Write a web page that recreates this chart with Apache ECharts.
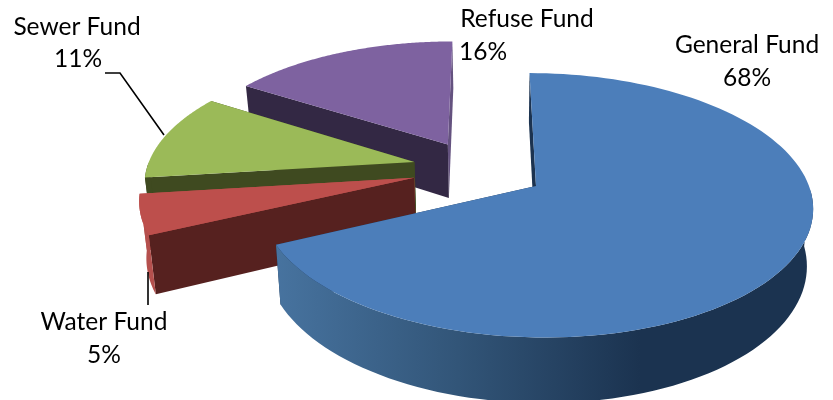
<!DOCTYPE html>
<html lang="en">
<head>
    <meta charset="UTF-8">
    <title>Fund shares</title>
    <script src="https://cdn.jsdelivr.net/npm/echarts@6/dist/echarts.min.js"></script>
    <style>
        html, body { margin: 0; padding: 0; background: #fff; }
        #main { width: 833px; height: 400px; }
    </style>
</head>
<body>
<div id="main"></div>
<script>
    var categories = ['General Fund', 'Water Fund', 'Sewer Fund', 'Refuse Fund'];
    var shares = [68, 5, 11, 16];

    // office pie colours: top face, radial wall, outer wall
    var topColors = ['#4c7eba', '#bd4f4c', '#9bba58', '#7e62a0'];
    var radialColors = ['#1c3350', '#56211f', '#3f4a20', '#332844'];
    var endColors = ['#1c3350', '#b5504d', '#3f4a20', '#64527f'];

    // exploded offset of each slice on the pie plane (x in px, z relative to camera distance)
    var offsets = [[536, 0], [413.5, -0.0095], [412.5, -0.0279], [446, -0.049]];

    // perspective of the plane
    var vanishX = 485, horizon = -700, planeY = 186;
    var radiusX = 273, radiusZ = 0.146;
    var wallHeight = 56, wallSkew = 0.02, wallCenterX = 500;

    // label text positions: name line, value line
    var labelBoxes = [
        { name: [747, 45], value: [747, 78] },
        { name: [104, 322], value: [104, 355] },
        { name: [77, 27], value: [78, 59] },
        { name: [527, 19], value: [483, 52] }
    ];
    var leaderLines = [
        [[164, 135], [120, 73], [105, 73]],
        [[148, 272], [148, 305]]
    ];

    function project(sliceIdx, angle) {
        var u = Math.sin(angle), v = -Math.cos(angle);
        var off = offsets[sliceIdx];
        var z = off[1] + v * radiusZ;
        var s = 1 / (1 - z);
        return {
            x: vanishX + (off[0] + u * radiusX - vanishX) * s,
            y: horizon + (planeY - horizon) * s,
            s: s,
            front: v >= 0
        };
    }

    function down(p) {
        return [p.x + (wallCenterX - p.x) * wallSkew, p.y + wallHeight * p.s];
    }

    function xy(p) {
        return [p.x, p.y];
    }

    function sliceShapes(i) {
        var total = shares.reduce(function (a, b) { return a + b; }, 0);
        var before = 0;
        for (var k = 0; k < i; k++) before += shares[k];
        var a0 = before / total * Math.PI * 2;
        var a1 = (before + shares[i]) / total * Math.PI * 2;

        var arc = [];
        var steps = 120;
        for (var n = 0; n <= steps; n++) {
            arc.push(project(i, a0 + (a1 - a0) * n / steps));
        }
        var off = offsets[i];
        var s = 1 / (1 - off[1]);
        var apex = {
            x: vanishX + (off[0] - vanishX) * s,
            y: horizon + (planeY - horizon) * s,
            s: s
        };
        var first = arc[0], last = arc[arc.length - 1];
        // only the part of the rim that faces the viewer gets a wall
        var frontArc = arc.filter(function (p) { return p.front; });

        return {
            top: [xy(apex)].concat(arc.map(xy)),
            outer: frontArc.map(xy).concat(frontArc.slice().reverse().map(down)),
            startWall: [xy(apex), xy(first), down(first), down(apex)],
            endWall: [xy(apex), xy(last), down(last), down(apex)]
        };
    }

    function poly(points, fill) {
        return {
            type: 'polygon',
            shape: { points: points },
            style: { fill: fill, stroke: null }
        };
    }

    function renderItem(params, api) {
        var i = api.value(0);
        var shapes = sliceShapes(i);
        var outerFill = endColors[i];
        if (i === 0) {
            outerFill = new echarts.graphic.LinearGradient(276, 0, 640, 0, [
                { offset: 0, color: '#47739f' },
                { offset: 0.5, color: '#325578' },
                { offset: 1, color: '#1b3350' }
            ], true);
        }
        var children = [
            poly(shapes.endWall, endColors[i]),
            poly(shapes.startWall, radialColors[i])
        ];
        if (shapes.outer.length > 2) {
            children.push(poly(shapes.outer, outerFill));
        }
        children.push(poly(shapes.top, topColors[i]));
        return { type: 'group', children: children };
    }

    var labelFont = { fontFamily: 'Lato', fontSize: 24.5, fill: '#000' };
    var graphics = [];
    categories.forEach(function (name, i) {
        var box = labelBoxes[i];
        graphics.push({
            type: 'text', x: box.name[0], y: box.name[1], z: 10,
            style: Object.assign({ text: name, align: 'center', verticalAlign: 'middle' }, labelFont)
        });
        graphics.push({
            type: 'text', x: box.value[0], y: box.value[1], z: 10,
            style: Object.assign({ text: shares[i] + '%', align: 'center', verticalAlign: 'middle' }, labelFont)
        });
    });
    leaderLines.forEach(function (pts) {
        graphics.push({
            type: 'polyline', z: 10,
            shape: { points: pts },
            style: { stroke: '#000', lineWidth: 1.6, fill: null }
        });
    });

    var myChart = echarts.init(document.getElementById('main'));
    myChart.setOption({
        animation: false,
        backgroundColor: '#fff',
        graphic: graphics,
        series: [{
            type: 'custom',
            coordinateSystem: 'none',
            renderItem: renderItem,
            // back slices first so the nearer ones cover them
            data: [3, 2, 1, 0]
        }]
    });
</script>
</body>
</html>
